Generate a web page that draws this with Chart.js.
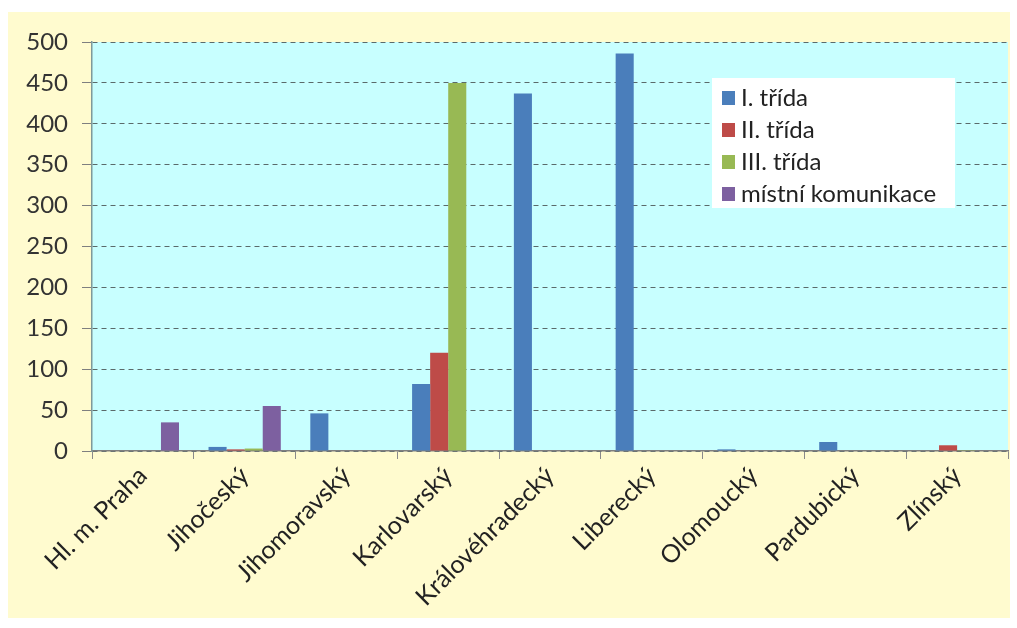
<!DOCTYPE html>
<html>
<head>
<meta charset="utf-8">
<script src="https://cdn.jsdelivr.net/npm/chart.js@4/dist/chart.umd.min.js"></script>
<style>
  html, body { margin: 0; padding: 0; background: #ffffff; }
  #wrap { position: relative; width: 1017px; height: 628px; }
</style>
</head>
<body>
<div id="wrap"><canvas id="chart" width="1017" height="628"></canvas></div>
<script>
// kraje
const regions = ['Hl. m. Praha', 'Jihočeský', 'Jihomoravský', 'Karlovarský', 'Královéhradecký', 'Liberecký', 'Olomoucký', 'Pardubický', 'Zlínský'];

// hodnoty podle třídy silnice
const trida1 = [0, 5, 46, 82, 437, 486, 2, 11, 0];
const trida2 = [0, 2, 0, 120, 0, 0, 0, 0, 7];
const trida3 = [0, 3, 0, 450, 0, 0, 0, 0, 1];
const mistni = [35, 55, 0, 0, 0, 0, 0, 0, 0];

const yTicks = [0, 50, 100, 150, 200, 250, 300, 350, 400, 450, 500];

const FONT = 'Lato, "Open Sans", sans-serif';

// krémové pozadí grafu a azurová plocha vykreslování
const backgrounds = {
  id: 'backgrounds',
  beforeDraw(chart) {
    const { ctx, chartArea: a } = chart;
    ctx.save();
    ctx.fillStyle = '#fffbcf';
    ctx.fillRect(8, 12, 1002, 606);
    ctx.fillStyle = '#c8ffff';
    ctx.fillRect(a.left, a.top, a.right - a.left, a.bottom - a.top);
    ctx.restore();
  }
};

new Chart(document.getElementById('chart'), {
  type: 'bar',
  data: {
    labels: regions,
    datasets: [
      { label: 'I. třída', data: trida1, backgroundColor: '#4a7ebb' },
      { label: 'II. třída', data: trida2, backgroundColor: '#be4b48' },
      { label: 'III. třída', data: trida3, backgroundColor: '#98b954' },
      { label: 'místní komunikace', data: mistni, backgroundColor: '#7d60a0' }
    ]
  },
  options: {
    responsive: false,
    animation: false,
    layout: { padding: { top: 42, right: 9, left: 0, bottom: 0 } },
    datasets: { bar: { categoryPercentage: 0.71, barPercentage: 1.0 } },
    plugins: {
      legend: { display: false },
      tooltip: { enabled: false }
    },
    scales: {
      x: {
        grid: { drawOnChartArea: false, drawTicks: true, tickLength: 8, color: '#8a8a8a', offset: true },
        border: { color: '#7f7f7f', width: 1.5 },
        ticks: {
          color: '#222222',
          font: { family: FONT, size: 25 },
          minRotation: 45,
          maxRotation: 45,
          autoSkip: false,
          padding: 2
        },
        afterFit(scale) { scale.height = 177; }
      },
      y: {
        min: 0,
        max: 500,
        afterBuildTicks(scale) { scale.ticks = yTicks.map(v => ({ value: v })); },
        grid: { color: '#5a6a6a', tickLength: 10, tickColor: '#7f7f7f', tickBorderDash: [], lineWidth: 1 },
        border: { color: '#7f9a9a', width: 1.5, dash: [5, 4] },
        ticks: {
          color: '#333333',
          font: { family: FONT, size: 24 },
          padding: 14
        },
        afterFit(scale) { scale.width = 92; }
      }
    }
  },
  plugins: [backgrounds, {
    // legenda v bílém rámečku uvnitř plochy grafu
    id: 'boxLegend',
    afterDraw(chart) {
      const { ctx } = chart;
      const x = 712, y = 78, w = 243, h = 130;
      ctx.save();
      ctx.fillStyle = '#ffffff';
      ctx.fillRect(x, y, w, h);
      ctx.font = '24px ' + FONT;
      ctx.textBaseline = 'middle';
      chart.data.datasets.forEach((ds, i) => {
        const cy = y + 20 + i * 32;
        ctx.fillStyle = ds.backgroundColor;
        ctx.fillRect(x + 10, cy - 7, 13, 14);
        ctx.fillStyle = '#222222';
        ctx.fillText(ds.label, x + 29, cy);
      });
      ctx.restore();
    }
  }]
});
</script>
</body>
</html>
